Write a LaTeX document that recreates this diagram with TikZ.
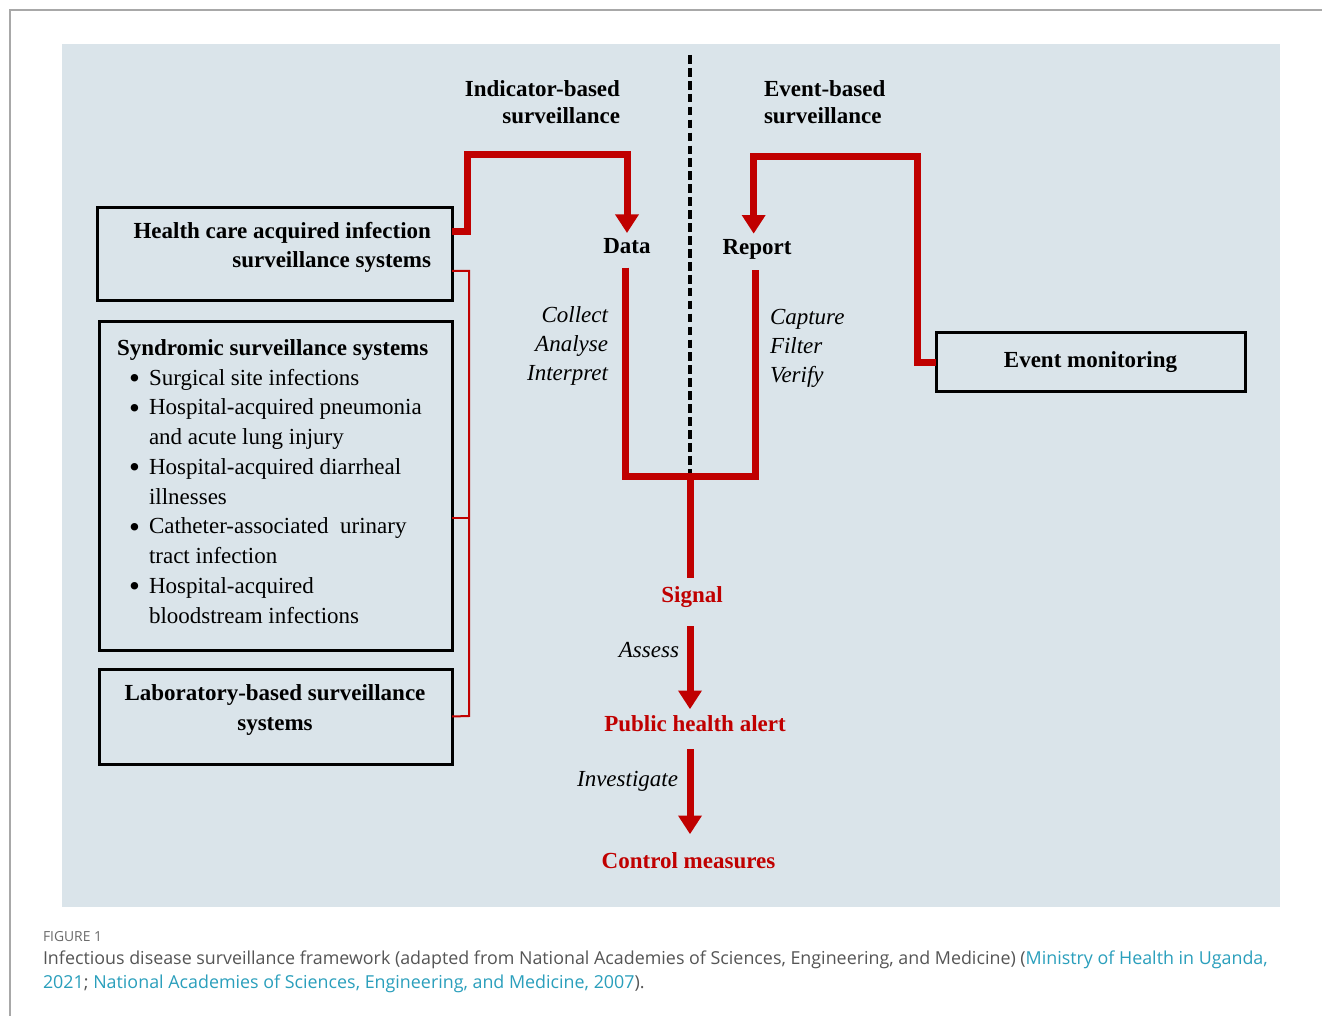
\documentclass[tikz,border=0pt]{standalone}
\usepackage{fontspec}
\setmainfont{Liberation Serif}
\newfontfamily\capfont{Open Sans}
\usetikzlibrary{arrows.meta,fit}
\definecolor{panel}{HTML}{DAE4EA}
\definecolor{dred}{HTML}{C00000}
\definecolor{capgray}{HTML}{555555}
\definecolor{figgray}{HTML}{6A6A6A}
\definecolor{linkteal}{HTML}{2A9FBC}
\definecolor{framegray}{HTML}{A8A8A8}
\newcommand{\bul}{\makebox[15pt][l]{\raisebox{-2.6pt}{\scalebox{1.35}{\textbullet}}}}
\begin{document}
\begin{tikzpicture}[x=0.75pt,y=-0.75pt,
  every node/.style={inner sep=0pt, outer sep=0pt},
  txt/.style={font=\fontsize{17.25}{22.3}\selectfont},
  btxt/.style={font=\fontsize{17.25}{21.75}\selectfont\bfseries},
  htxt/.style={font=\fontsize{17.25}{20.25}\selectfont\bfseries},
  itxt/.style={font=\fontsize{17.25}{21.75}\selectfont\itshape},
  rtxt/.style={btxt, text=dred},
  box/.style={draw=black, line width=2.25pt, inner sep=0pt},
  redflow/.style={draw=dred, line width=5.25pt},
  redarrow/.style={redflow, -{Triangle[width=17pt,length=14pt]}},
  redthin/.style={draw=dred, line width=1.5pt},
  divider/.style={draw=black, line width=2.3pt, dash pattern=on 6.5pt off 3.2pt},
  captext/.style={font=\capfont\fontsize{13.4}{18}\selectfont, text=capgray, anchor=base west},
]
\useasboundingbox (0,0) rectangle (1322,1016);
\fill[white] (0,0) rectangle (1322,1016);
% outer frame
\draw[framegray, line width=0.9pt] (1322,10) -- (10,10) -- (10,1016);
% panel
\fill[panel] (62,44) rectangle (1280,907);

% headers
\node[htxt, align=right, anchor=east] (ind) at (620,102) {Indicator-based\\surveillance};
\node[htxt, align=left, anchor=west] (evt) at (764,102) {Event-based\\surveillance};

% left boxes
\node[box, fit={(97,208) (452,301)}] (hcai) {};
\node[btxt, align=right, anchor=east] (hcait) at (431,247) {Health care acquired infection\\surveillance systems};

\node[box, fit={(99,322) (452,650)}] (syn) {};
\node[txt, align=left, anchor=north west] (synt) at (117,339.5) {\textbf{Syndromic surveillance systems}\\
\hspace*{9pt}\bul Surgical site infections\\
\hspace*{9pt}\bul Hospital-acquired pneumonia\\
\hspace*{24pt}and acute lung injury\\
\hspace*{9pt}\bul Hospital-acquired diarrheal\\
\hspace*{24pt}illnesses\\
\hspace*{9pt}\bul Catheter-associated\ \ urinary\\
\hspace*{24pt}tract infection\\
\hspace*{9pt}\bul Hospital-acquired\\
\hspace*{24pt}bloodstream infections};

\node[box, fit={(99,669) (452,764)}] (lab) {};
\node[btxt, align=center] (labt) at (275,710) {Laboratory-based surveillance\\systems};

% event monitoring
\node[box, btxt, minimum width=231.75pt, minimum height=44.25pt] (em) at (1090.5,362.5) {Event monitoring};

% center nodes
\node[btxt] (data) at (627,246) {Data};
\node[btxt] (report) at (757,249) {Report};
\node[itxt, align=right, anchor=east] (ind2) at (608,346) {Collect\\Analyse\\Interpret};
\node[itxt, align=left, anchor=west] (evt2) at (770,348) {Capture\\Filter\\Verify};
\node[rtxt] (signal) at (692,597) {Signal};
\node[rtxt] (pha) at (695,724) {Public health alert};
\node[rtxt] (ctrl) at (688.5,861) {Control measures};
\node[itxt, anchor=east] (assess) at (679,650) {Assess};
\node[itxt, anchor=east] (invest) at (678,781) {Investigate};

% divider
\coordinate (dtop) at (690,55);
\coordinate (junc) at (690,476);
\draw[divider] (dtop) -- (junc);

% red flows
\draw[redarrow] (hcai.east |- 0,232) -| (467,155) -| ([yshift=4pt]data.north);
\draw[redarrow] (em.west) -| (917,157) -| ([xshift=-2.5pt,yshift=4pt]report.north);
\draw[redflow] ([shift={(-1.5pt,-10.5pt)}]data.south) |- (junc) -| ([shift={(-1.5pt,-8pt)}]report.south);
\draw[redflow, shorten >=6.5pt] (junc) -- (signal.north -| junc);
\draw[redarrow, shorten <=14pt, shorten >=5pt] (signal.south -| junc) -- (pha.north -| junc);
\draw[redarrow, shorten <=13pt, shorten >=14pt] (pha.south -| junc) -- (ctrl.north -| junc);

% thin red bracket
\draw[redthin] (hcai.east |- 0,271) -| (469,716) -- (lab.east);
\draw[redthin] (syn.east |- 0,518) -- (469,518);

% caption
\node[font=\capfont\fontsize{10.4}{12}\selectfont, text=figgray, anchor=base west] (fig) at (43,941) {FIGURE 1};
\node[captext] (cap1) at (43,964) {Infectious disease surveillance framework (adapted from National Academies of Sciences, Engineering, and Medicine) (\textcolor{linkteal}{Ministry of Health in Uganda,}};
\node[captext] (cap2) at (43,988) {\textcolor{linkteal}{2021}; \textcolor{linkteal}{National Academies of Sciences, Engineering, and Medicine, 2007}).};
\end{tikzpicture}
\end{document}
